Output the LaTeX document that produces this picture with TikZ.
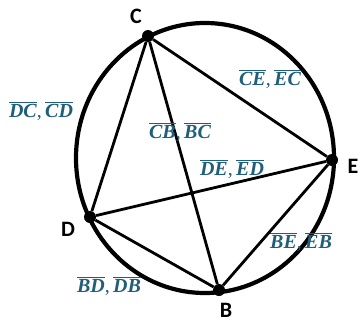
\documentclass[tikz,border=0pt]{standalone}
\usepackage{fontspec}
\setmainfont{Liberation Serif}
\newfontfamily\lblfont{Carlito}
\definecolor{segteal}{HTML}{1F5F7A}
\newcommand{\segov}[1]{$\overline{\mbox{\bfseries\itshape #1}}$}
\begin{document}
\begin{tikzpicture}[x=1pt,y=-1pt,
  pt/.style={circle,fill=black,inner sep=0pt,minimum size=12pt},
  chord/.style={line width=2.8pt},
  ptlabel/.style={font=\lblfont\bfseries\fontsize{22}{24}\selectfont,inner sep=0pt},
  seglabel/.style={text=segteal,font=\fontsize{20}{22}\selectfont,inner sep=0pt}]
\useasboundingbox (0,0) rectangle (363,322);
\draw[line width=4.2pt] (205,158) ellipse [x radius=129, y radius=135];
\node[pt] (C) at (148,36) {};
\node[pt] (E) at (332,160) {};
\node[pt] (D) at (90,217) {};
\node[pt] (B) at (219,290) {};
\draw[chord] (C) -- (D);
\draw[chord] (C) -- (B);
\draw[chord] (C) -- (E);
\draw[chord] (D) -- (E);
\draw[chord] (D) -- (B);
\draw[chord] (B) -- (E);
\node[ptlabel] (lC) at (136,16) {C};
\node[ptlabel] (lE) at (353,166) {E};
\node[ptlabel] (lD) at (68,229) {D};
\node[ptlabel] (lB) at (226,310) {B};
\node[seglabel] (sDC) at (41,111) {\segov{DC},\,\segov{CD}};
\node[seglabel] (sCE) at (270,79) {\segov{CE},\,\segov{EC}};
\node[seglabel] (sCB) at (180,132) {\segov{CB},\,\segov{BC}};
\node[seglabel] (sDE) at (232,169) {\segov{DE},\,\segov{ED}};
\node[seglabel] (sBE) at (301,242) {\segov{BE},\,\segov{EB}};
\node[seglabel] (sBD) at (109,286) {\segov{BD},\,\segov{DB}};
\end{tikzpicture}
\end{document}
